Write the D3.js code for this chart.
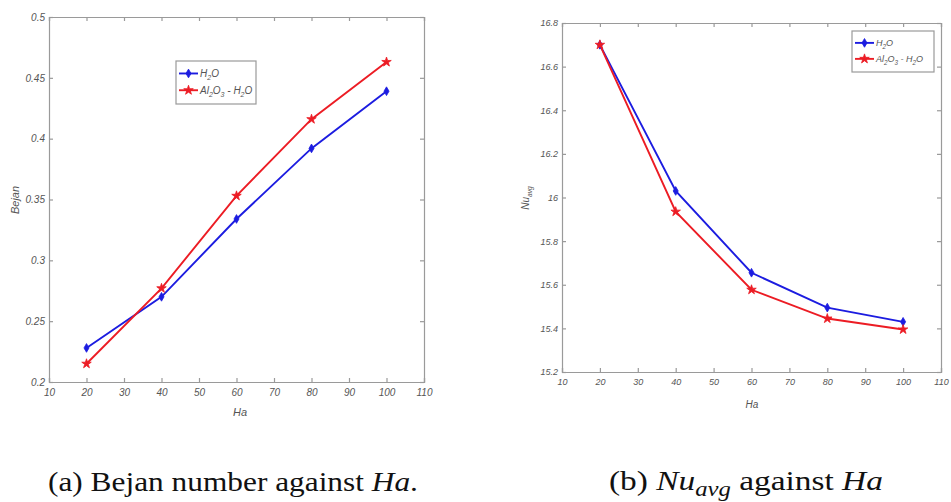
<!DOCTYPE html>
<html><head><meta charset="utf-8">
<script src="https://cdn.jsdelivr.net/npm/d3@7/dist/d3.min.js"></script>
<style>html,body{margin:0;padding:0;background:#fff;}svg{display:block;}</style>
</head><body>
<script>
// ---- data ----
const ha = [20, 40, 60, 80, 100];
const bejanWater = [0.228, 0.270, 0.334, 0.392, 0.439];
const bejanNano = [0.215, 0.277, 0.353, 0.416, 0.463];
const nuWater = [16.70, 16.03, 15.655, 15.495, 15.43];
const nuNano = [16.70, 15.935, 15.577, 15.445, 15.395];
const xTicks = [10, 20, 30, 40, 50, 60, 70, 80, 90, 100, 110];
const bejanTicks = [0.2, 0.25, 0.3, 0.35, 0.4, 0.45, 0.5];
const nuTicks = [15.2, 15.4, 15.6, 15.8, 16, 16.2, 16.4, 16.6, 16.8];
const seriesNames = ["H2O", "Al2O3-H2O"];

const W = 951, H = 502;
const svg = d3.select("body").append("svg").attr("width", W).attr("height", H);
svg.append("rect").attr("width", W).attr("height", H).attr("fill", "#fff");

const BLUE = "#1c1ce0", RED = "#ec1c24", AX = "#9a9a9a", TXT = "#555";
const tickFont = "Liberation Sans, Arial, sans-serif";

function legendLabel(t, name, fs) {
  const sub = (s) => { t.append("tspan").attr("dy", 3).attr("font-size", fs * 0.7).text(s); };
  const nor = (s) => { t.append("tspan").attr("dy", -3).text(s); };
  if (name === "H2O") {
    t.append("tspan").text("H"); sub("2"); nor("O");
  } else {
    t.append("tspan").text("Al"); sub("2"); nor("O"); sub("3"); nor(" - H"); sub("2"); nor("O");
  }
}

function panel(cfg) {
  const x = d3.scaleLinear().domain([10, 110]).range([cfg.left, cfg.right]);
  const y = d3.scaleLinear().domain(cfg.ydom).range([cfg.bottom, cfg.top]);
  const g = svg.append("g");
  const fmt = d => String(+d.toFixed(2));

  const bx = g.append("g").attr("transform", `translate(0,${cfg.bottom})`)
    .call(d3.axisBottom(x).tickValues(xTicks).tickSize(-4).tickPadding(7).tickFormat(fmt));
  const tx = g.append("g").attr("transform", `translate(0,${cfg.top})`)
    .call(d3.axisTop(x).tickValues(xTicks).tickSize(-4).tickFormat(""));
  const ly = g.append("g").attr("transform", `translate(${cfg.left},0)`)
    .call(d3.axisLeft(y).tickValues(cfg.yticks).tickSize(-4).tickPadding(4).tickFormat(fmt));
  const ry = g.append("g").attr("transform", `translate(${cfg.right},0)`)
    .call(d3.axisRight(y).tickValues(cfg.yticks).tickSize(-4).tickFormat(""));
  [bx, tx, ly, ry].forEach(a => {
    a.selectAll("path,line").attr("stroke", AX).attr("stroke-width", 1.2);
    a.selectAll("text").attr("fill", TXT).attr("font-family", tickFont)
      .attr("font-style", "italic").attr("font-size", cfg.fs);
  });

  const line = d3.line().x((d, i) => x(ha[i])).y(d => y(d));
  const series = [{v: cfg.a, c: BLUE, sym: d3.symbolDiamond, s: 22},
                  {v: cfg.b, c: RED, sym: d3.symbolStar, s: 28}];
  series.forEach(s => {
    g.append("path").datum(s.v).attr("d", line).attr("fill", "none")
      .attr("stroke", s.c).attr("stroke-width", 1.9);
  });
  series.forEach(s => {
    g.selectAll(null).data(s.v).enter().append("path")
      .attr("d", d3.symbol().type(s.sym).size(s.s))
      .attr("transform", (d, i) => `translate(${x(ha[i])},${y(d)})`)
      .attr("fill", s.c).attr("stroke", s.c).attr("stroke-width", 0.8);
  });

  // axis labels
  g.append("text").attr("x", cfg.xlab[0]).attr("y", cfg.xlab[1]).attr("text-anchor", "middle")
    .attr("font-family", tickFont).attr("font-style", "italic").attr("font-size", cfg.fs + 1)
    .attr("fill", TXT).text("Ha");
  const yl = g.append("text").attr("transform", `translate(${cfg.ylab[0]},${cfg.ylab[1]}) rotate(-90)`)
    .attr("text-anchor", "middle").attr("font-family", tickFont).attr("font-style", "italic")
    .attr("font-size", cfg.fs + 1).attr("fill", TXT);
  if (cfg.ylabel === "Bejan") yl.text("Bejan");
  else {
    yl.append("tspan").text("Nu");
    yl.append("tspan").attr("dy", 3).attr("font-size", cfg.fs * 0.75).text("avg");
  }

  // legend
  const L = cfg.leg;
  g.append("rect").attr("x", L.x).attr("y", L.y).attr("width", L.w).attr("height", L.h)
    .attr("fill", "#fff").attr("stroke", AX).attr("stroke-width", 1.2);
  series.forEach((s, i) => {
    const yy = L.y + L.h * (i === 0 ? 0.29 : 0.68);
    g.append("line").attr("x1", L.x + 3).attr("x2", L.x + 22).attr("y1", yy).attr("y2", yy)
      .attr("stroke", s.c).attr("stroke-width", 1.9);
    g.append("path").attr("d", d3.symbol().type(s.sym).size(s.s))
      .attr("transform", `translate(${L.x + 12.5},${yy})`).attr("fill", s.c).attr("stroke", s.c).attr("stroke-width", 0.8);
    const t = g.append("text").attr("x", L.x + 24).attr("y", yy + 3.5)
      .attr("font-family", tickFont).attr("font-style", "italic").attr("font-size", cfg.fs)
      .attr("fill", TXT);
    legendLabel(t, seriesNames[i], cfg.fs);
  });
}

panel({left: 49, right: 424, top: 17, bottom: 382, ydom: [0.2, 0.5], yticks: bejanTicks,
  a: bejanWater, b: bejanNano, fs: 10, xlab: [240, 416], ylab: [19, 200], ylabel: "Bejan",
  leg: {x: 176, y: 61, w: 80, h: 43}});
panel({left: 562, right: 941, top: 23, bottom: 372, ydom: [15.2, 16.8], yticks: nuTicks,
  a: nuWater, b: nuNano, fs: 9, xlab: [752, 408], ylab: [529, 198], ylabel: "Nu",
  leg: {x: 852, y: 31, w: 82, h: 41}});

// captions (horizontally stretched like the reference)
const capFont = "Liberation Serif, Times New Roman, serif";
function caption(x0, base, targetW, build) {
  const g = svg.append("g");
  const t = g.append("text").attr("x", 0).attr("y", 0).attr("font-family", capFont)
    .attr("font-size", 27).attr("fill", "#111");
  build(t);
  const w = t.node().getComputedTextLength();
  g.attr("transform", `translate(${x0},${base}) scale(${targetW / w},1)`);
}
caption(48, 491, 370, t => {
  t.append("tspan").text("(a) Bejan number against ");
  t.append("tspan").attr("font-style", "italic").text("Ha");
  t.append("tspan").text(".");
});
caption(609, 490, 274, t => {
  t.append("tspan").text("(b) ");
  t.append("tspan").attr("font-style", "italic").text("Nu");
  t.append("tspan").attr("font-style", "italic").attr("font-size", 20).attr("dy", 6).text("avg");
  t.append("tspan").attr("dy", -6).text(" against ");
  t.append("tspan").attr("font-style", "italic").text("Ha");
});
</script>
</body></html>
